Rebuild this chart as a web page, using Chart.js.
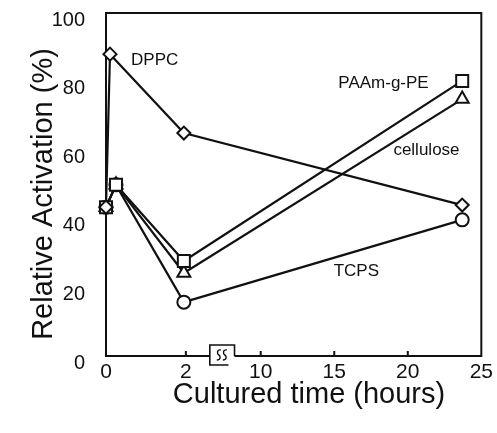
<!DOCTYPE html>
<html><head><meta charset="utf-8">
<script src="https://cdn.jsdelivr.net/npm/chart.js@4"></script>
<style>html,body{margin:0;padding:0;background:#fff}#wrap{width:497px;height:433px;position:relative}</style>
</head><body><div id="wrap"><canvas id="c"></canvas></div>
<script>
// ---- data (hours, relative activation %) ----
const seriesNames = ['DPPC', 'PAAm-g-PE', 'cellulose', 'TCPS'];
const dppcHours = [0, 0.1, 1.95, 23.7];
const dppcValues = [43.4, 88.0, 65.0, 44.0];
const paamHours = [0, 0.25, 1.95, 23.7];
const paamValues = [43.4, 49.9, 27.7, 80.2];
const celluloseHours = [0, 0.25, 1.95, 23.7];
const celluloseValues = [43.4, 49.9, 24.2, 74.9];
const tcpsHours = [0, 0.25, 1.95, 23.7];
const tcpsValues = [43.4, 49.9, 15.7, 39.7];
const xTickHours = [0, 2, 10, 15, 20, 25];
const xTickLabels = ['0', '2', '10', '15', '20', '25'];
const yTickValues = [0, 20, 40, 60, 80, 100];
const labelTexts = ['DPPC', 'PAAm-g-PE', 'cellulose', 'TCPS'];
const labelHours = [1.22, 18.35, 21.27, 16.5];
const labelValues = [86.3, 79.6, 60.1, 24.8];
const breakHours = [4.56, 7.2];
const xTitle = 'Cultured time (hours)';
const yTitle = 'Relative Activation (%)';

// broken x-axis: 0-2 h expanded, gap, then 10-25 h
function axisPos(h) {
  if (h <= 2) return h * 40;
  if (h >= 10) return 155 + (h - 10) * 14.733;
  return 80 + (h - 2) * 75 / 8;
}
function pts(hs, vs) { return hs.map((h, i) => ({x: axisPos(h), y: vs[i]})); }

const INK = '#111';
const FONT = '"Liberation Sans", Arial, sans-serif';
function ds(label, hs, vs, style, radius) {
  return {
    label, data: pts(hs, vs), borderColor: INK, borderWidth: 2.2, clip: false,
    pointStyle: style, pointRadius: radius, pointBorderWidth: 2,
    pointBackgroundColor: '#fff', pointBorderColor: INK, tension: 0, fill: false
  };
}

const framePlugin = {
  id: 'framePlugin',
  beforeDatasetsDraw(chart) {
    const {ctx, chartArea: a, scales: {x}} = chart;
    ctx.save();
    ctx.strokeStyle = INK; ctx.lineWidth = 2;
    ctx.strokeRect(a.left, a.top, a.right - a.left, a.bottom - a.top);
    ctx.beginPath();
    xTickHours.forEach(h => {
      if (h === 0 || h === 25) return;
      const px = x.getPixelForValue(axisPos(h));
      ctx.moveTo(px, a.bottom); ctx.lineTo(px, a.bottom - 5);
    });
    ctx.stroke();
    ctx.restore();
  },
  afterDatasetsDraw(chart) {
    const {ctx, chartArea: a, scales: {x, y}} = chart;
    ctx.save();
    ctx.strokeStyle = INK;
    // axis break
    const x1 = x.getPixelForValue(axisPos(breakHours[0]));
    const x2 = x.getPixelForValue(axisPos(breakHours[1]));
    const t = a.bottom - 11, b = a.bottom + 9;
    ctx.fillStyle = '#fff';
    ctx.fillRect(x1, a.bottom - 2, x2 - x1, 4);
    ctx.lineWidth = 1.6;
    ctx.beginPath();
    ctx.moveTo(x2, a.bottom); ctx.lineTo(x2, t); ctx.lineTo(x1, t); ctx.lineTo(x1, b); ctx.lineTo(x2 - 6, b);
    ctx.stroke();
    ctx.lineWidth = 1.4;
    [x1 + 9, x1 + 15].forEach(cx => {
      ctx.beginPath();
      ctx.moveTo(cx + 2, t + 5);
      ctx.bezierCurveTo(cx - 2, t + 4, cx - 2, t + 9, cx, t + 10);
      ctx.bezierCurveTo(cx + 2, t + 11, cx + 2, t + 15, cx - 2, t + 15);
      ctx.stroke();
    });
    // curve labels
    ctx.fillStyle = INK;
    ctx.font = '17px ' + FONT;
    ctx.textAlign = 'center'; ctx.textBaseline = 'middle';
    labelTexts.forEach((s, i) => {
      ctx.fillText(s, x.getPixelForValue(axisPos(labelHours[i])), y.getPixelForValue(labelValues[i]));
    });
    // axis titles
    ctx.font = '29px ' + FONT;
    ctx.fillText(xTitle, 309, 395);
    ctx.translate(44, 194);
    ctx.rotate(-Math.PI / 2);
    ctx.fillText(yTitle, 0, 0);
    ctx.restore();
  }
};

new Chart(document.getElementById('c'), {
  type: 'line',
  data: {
    datasets: [
      ds(seriesNames[0], dppcHours, dppcValues, 'rectRot', 6.5),
      ds(seriesNames[1], paamHours, paamValues, 'rect', 8.5),
      ds(seriesNames[2], celluloseHours, celluloseValues, 'triangle', 7.5),
      ds(seriesNames[3], tcpsHours, tcpsValues, 'circle', 6.5)
    ]
  },
  options: {
    responsive: true, maintainAspectRatio: false, animation: false,
    layout: {padding: {top: 13, right: 15, bottom: 0, left: 0}},
    plugins: {legend: {display: false}, tooltip: {enabled: false}},
    scales: {
      x: {
        type: 'linear', min: axisPos(0), max: axisPos(25),
        grid: {display: false, drawTicks: false}, border: {display: false},
        afterBuildTicks: s => { s.ticks = xTickHours.map(h => ({value: axisPos(h)})); },
        afterFit: s => { s.height = 77; },
        ticks: {
          color: INK, padding: 4, maxRotation: 0, autoSkip: false,
          font: {family: FONT, size: 21},
          callback: (v, i) => xTickLabels[i]
        },
        title: {display: false}
      },
      y: {
        type: 'linear', min: 0, max: 100,
        grid: {display: false, drawTicks: false}, border: {display: false},
        afterBuildTicks: s => { s.ticks = yTickValues.map(v => ({value: v})); },
        afterFit: s => { s.width = 106; s.paddingTop = 0; s.paddingBottom = 0; },
        ticks: {
          color: INK, padding: 21, labelOffset: 7,
          font: {family: FONT, size: 20}
        },
        title: {display: false}
      }
    }
  },
  plugins: [framePlugin]
});
</script>
</body></html>
